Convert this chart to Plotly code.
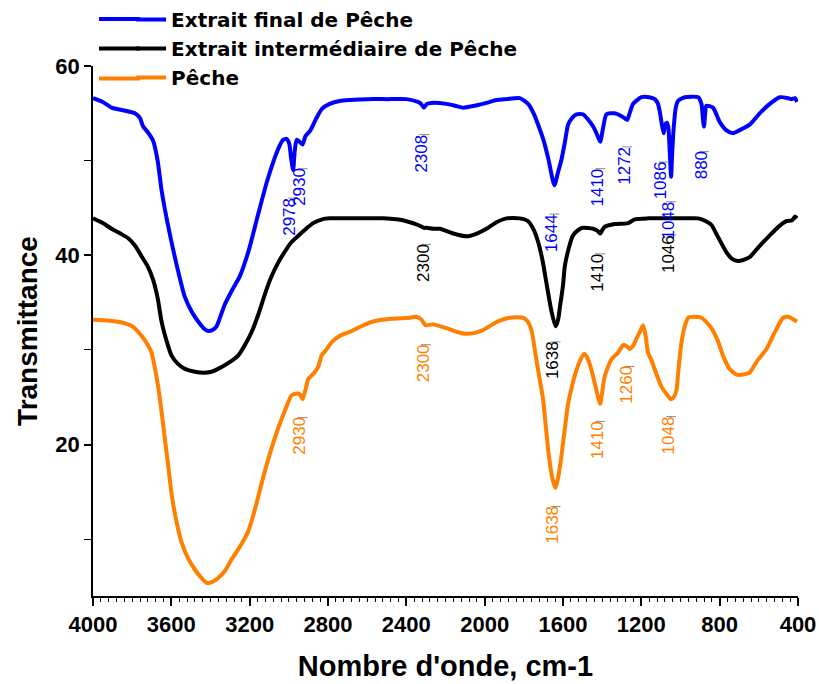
import plotly.graph_objects as go

# ---------------- data ----------------
wn_final = [4000, 3950, 3905, 3840, 3786, 3760, 3744, 3720, 3693, 3670, 3650, 3625, 3599, 3565, 3531, 3495,
            3463, 3435, 3412, 3390, 3369, 3350, 3327, 3290, 3250, 3205, 3157, 3110, 3055, 3030, 3012, 2998,
            2990, 2978, 2970, 2960, 2945, 2930, 2915, 2890, 2859, 2830, 2791, 2740, 2689, 2600, 2500, 2399,
            2341, 2325, 2310, 2295, 2271, 2195, 2150, 2110, 2050, 1991, 1940, 1889, 1821, 1778, 1750, 1727,
            1700, 1676, 1644, 1625, 1608, 1590, 1574, 1550, 1531, 1498, 1470, 1446, 1425, 1410, 1395, 1378,
            1336, 1301, 1280, 1272, 1260, 1242, 1199, 1160, 1131, 1115, 1106, 1095, 1086, 1078, 1070, 1062,
            1055, 1048, 1042, 1035, 1025, 1013, 978, 910, 893, 886, 880, 874, 868, 834, 800, 765, 732, 700,
            647, 600, 544, 493, 450, 434, 415, 405]
t_final = [56.6, 56.2, 55.6, 55.3, 55.0, 54.5, 53.6, 53.0, 52.1, 50.0, 46.9, 44.0, 41.4, 38.3, 35.6, 34.0,
           33.0, 32.3, 32.0, 32.1, 32.5, 33.5, 34.8, 36.3, 37.8, 40.5, 44.3, 47.9, 51.2, 52.2, 52.3, 51.8,
           50.5, 49.0, 51.0, 52.2, 52.0, 51.7, 52.6, 53.2, 54.5, 55.5, 56.0, 56.3, 56.4, 56.5, 56.5, 56.5,
           56.2, 56.0, 55.6, 56.0, 56.1, 56.0, 55.8, 55.6, 55.8, 56.1, 56.4, 56.5, 56.6, 56.0, 55.0, 53.8,
           52.2, 50.3, 47.4, 48.8, 50.1, 52.0, 53.8, 54.6, 54.9, 54.9, 54.3, 53.6, 52.7, 52.0, 53.5, 54.9,
           55.0, 54.7, 54.4, 54.3, 55.0, 56.0, 56.7, 56.7, 56.5, 56.0, 55.2, 53.8, 52.9, 53.8, 54.0, 53.5,
           51.0, 48.3, 51.0, 53.4, 55.5, 56.3, 56.7, 56.7, 56.0, 54.5, 53.6, 55.0, 55.8, 55.6, 54.1, 53.2,
           52.9, 53.2, 53.8, 54.9, 56.0, 56.7, 56.6, 56.5, 56.6, 56.2]

wn_inter = [4000, 3950, 3905, 3860, 3820, 3785, 3752, 3720, 3693, 3670, 3650, 3625, 3599, 3565, 3531, 3480,
            3429, 3395, 3361, 3310, 3259, 3225, 3190, 3155, 3122, 3090, 3055, 3020, 2986, 2950, 2918, 2876,
            2830, 2791, 2650, 2519, 2450, 2399, 2340, 2310, 2297, 2260, 2229, 2160, 2093, 2040, 1991, 1940,
            1889, 1821, 1778, 1750, 1727, 1705, 1684, 1659, 1638, 1625, 1616, 1600, 1591, 1570, 1549, 1520,
            1498, 1446, 1425, 1410, 1398, 1387, 1336, 1268, 1234, 1166, 1100, 1046, 980, 910, 870, 842, 810,
            765, 735, 706, 680, 647, 600, 544, 500, 459, 430, 415, 405]
t_inter = [43.9, 43.4, 42.8, 42.3, 41.8, 41.0, 39.9, 38.8, 37.4, 35.5, 33.0, 31.0, 29.4, 28.5, 28.0, 27.7,
           27.6, 27.7, 28.0, 28.6, 29.4, 30.5, 31.9, 33.8, 35.9, 37.7, 39.2, 40.4, 41.4, 42.1, 42.7, 43.4,
           43.8, 43.9, 43.9, 43.9, 43.8, 43.6, 43.2, 42.9, 42.9, 42.8, 42.8, 42.3, 42.0, 42.3, 42.8, 43.5,
           43.9, 43.9, 43.6, 42.7, 41.4, 39.5, 37.0, 34.1, 32.5, 33.2, 34.5, 36.8, 38.8, 40.8, 42.1, 42.7,
           42.9, 42.8, 42.6, 42.3, 42.7, 43.0, 43.3, 43.4, 43.8, 43.9, 43.9, 43.9, 43.9, 43.9, 43.6, 43.2, 42.0,
           40.3, 39.6, 39.4, 39.5, 39.8, 40.9, 42.1, 43.0, 43.6, 43.7, 44.1, 43.9]

wn_peche = [4000, 3920, 3837, 3800, 3769, 3735, 3701, 3685, 3667, 3650, 3633, 3615, 3599, 3575, 3548, 3515,
            3480, 3450, 3420, 3390, 3361, 3325, 3292, 3250, 3208, 3175, 3139, 3100, 3055, 3020, 2986, 2960,
            2944, 2930, 2915, 2901, 2870, 2850, 2833, 2810, 2782, 2740, 2689, 2630, 2570, 2480, 2382, 2350,
            2323, 2310, 2300, 2263, 2195, 2140, 2093, 2050, 2008, 1960, 1923, 1872, 1804, 1780, 1760, 1740,
            1720, 1702, 1676, 1655, 1638, 1625, 1608, 1590, 1574, 1550, 1531, 1510, 1492, 1472, 1455, 1430,
            1410, 1398, 1387, 1353, 1319, 1293, 1275, 1259, 1240, 1225, 1205, 1191, 1178, 1166, 1150, 1131,
            1115, 1097, 1070, 1050, 1035, 1021, 1010, 995, 978, 961, 930, 893, 870, 842, 810, 783, 750, 714,
            680, 647, 610, 561, 520, 476, 450, 430, 405]
t_peche = [33.2, 33.1, 32.8, 32.5, 31.9, 31.0, 29.7, 28.2, 26.1, 23.5, 20.6, 17.6, 14.8, 12.0, 9.7, 8.0,
           6.8, 6.0, 5.4, 5.5, 5.9, 6.7, 7.9, 9.2, 10.8, 13.0, 15.9, 18.8, 21.7, 23.6, 25.2, 25.4,
           25.3, 24.8, 25.8, 26.9, 27.6, 28.2, 29.4, 30.0, 30.8, 31.5, 31.9, 32.5, 33.0, 33.3, 33.4, 33.5,
           33.2, 32.8, 32.6, 32.7, 32.3, 31.9, 31.7, 31.8, 32.1, 32.7, 33.1, 33.4, 33.4, 33.0, 32.0, 29.5,
           27.0, 24.8, 19.5, 16.5, 15.4, 16.5, 18.8, 21.8, 24.3, 26.5, 27.9, 29.0, 29.6, 29.0, 27.9, 25.8,
           24.3, 25.8, 27.2, 29.0, 29.7, 30.5, 30.4, 30.1, 30.5, 31.2, 32.0, 32.6, 31.5, 29.7, 29.0, 27.9,
           27.0, 26.1, 25.3, 24.8, 25.0, 25.7, 28.0, 30.8, 32.5, 33.4, 33.5, 33.4, 33.0, 32.3, 31.0, 29.4,
           28.0, 27.4, 27.4, 27.6, 28.8, 30.1, 31.8, 33.4, 33.5, 33.3, 33.0]

# peak labels: wavenumber, text, top of label (transmittance value)
lab_final_wn = [2978, 2930, 2308, 1644, 1410, 1272, 1086, 1048, 880]
lab_final_txt = ["2978", "2930", "2308", "1644", "1410", "1272", "1086", "1048", "880"]
lab_final_y = [46.3, 49.4, 53.0, 44.6, 49.4, 51.7, 50.1, 45.9, 51.2]

lab_inter_wn = [2300, 1638, 1410, 1046]
lab_inter_txt = ["2300", "1638", "1410", "1046"]
lab_inter_y = [41.4, 31.1, 40.4, 42.4]

lab_peche_wn = [2930, 2300, 1638, 1410, 1260, 1048]
lab_peche_txt = ["2930", "2300", "1638", "1410", "1260", "1048"]
lab_peche_y = [23.1, 30.8, 13.7, 22.7, 28.5, 23.2]

names = ["Extrait final de Pêche", "Extrait intermédiaire de Pêche", "Pêche"]
colors = ["#0000FF", "#000000", "#FF7F00"]

x_tickvals = [4000, 3600, 3200, 2800, 2400, 2000, 1600, 1200, 800, 400]
y_tickvals = [20, 40, 60]

FONT = "Liberation Sans, Arial, sans-serif"
LEG_FONT = "DejaVu Sans, Liberation Sans, sans-serif"

fig = go.Figure()
series = [(wn_final, t_final), (wn_inter, t_inter), (wn_peche, t_peche)]
for i, (xs, ys) in enumerate(series):
    fig.add_trace(go.Scatter(
        x=xs, y=ys, mode="lines", name=names[i],
        line=dict(color=colors[i], width=4, shape="spline", smoothing=0.6),
        hoverinfo="skip"))

labels = [(lab_final_wn, lab_final_txt, lab_final_y),
          (lab_inter_wn, lab_inter_txt, lab_inter_y),
          (lab_peche_wn, lab_peche_txt, lab_peche_y)]
for i, (lx, lt, ly) in enumerate(labels):
    fig.add_trace(go.Scatter(
        x=lx, y=[v - 0.25 for v in ly], mode="markers", showlegend=False, hoverinfo="skip",
        marker=dict(symbol="line-ew", size=7, line=dict(color="#888888", width=1))))
    for x, t, y in zip(lx, lt, ly):
        fig.add_annotation(x=x, y=y, text=t, textangle=-90, showarrow=False,
                           xanchor="center", yanchor="top", xshift=-3,
                           font=dict(family=FONT, size=17, color=colors[i]))

# longer legend keys (the reference draws longer sample lines)
plot_w, plot_h, m_l, m_t = 705, 530, 93, 66
legend_rows_px = [19, 48.5, 78.5]
for i, py in enumerate(legend_rows_px):
    yp = (m_t + plot_h - py) / plot_h
    fig.add_shape(type="line", xref="paper", yref="paper",
                  x0=(99 - m_l) / plot_w, x1=(140 - m_l) / plot_w, y0=yp, y1=yp,
                  line=dict(color=colors[i], width=4))

axis_font = dict(family=FONT, size=22, color="black", weight="bold")
fig.update_xaxes(
    range=[4000, 400], tickmode="array", tickvals=x_tickvals,
    ticks="outside", ticklen=8, tickwidth=1.5, tickcolor="black",
    minor=dict(dtick=40, tick0=0, ticks="outside", ticklen=4, tickwidth=1, tickcolor="black"),
    showline=True, linecolor="black", linewidth=1.5, showgrid=False, zeroline=False,
    tickfont=axis_font, ticklabeloverflow="allow",
    title=dict(text="Nombre d'onde, cm-1", font=dict(family=FONT, size=29, color="black", weight="bold"),
               standoff=20))
fig.update_yaxes(
    range=[4, 60], tickmode="array", tickvals=y_tickvals,
    ticks="outside", ticklen=7, tickwidth=1.5, tickcolor="black",
    minor=dict(dtick=10, tick0=0, ticks="outside", ticklen=7, tickwidth=1, tickcolor="black"),
    showline=True, linecolor="black", linewidth=1.5, showgrid=False, zeroline=False,
    tickfont=axis_font,
    title=dict(text="Transmittance", font=dict(family=FONT, size=28, color="black", weight="bold"),
               standoff=10))

fig.update_layout(
    width=819, height=684,
    margin=dict(l=m_l, r=21, t=m_t, b=88, autoexpand=False),
    paper_bgcolor="white", plot_bgcolor="white",
    showlegend=True,
    legend=dict(x=0.054, xref="paper", y=1.0, yref="container", xanchor="left", yanchor="top",
                traceorder="normal",
                font=dict(family=LEG_FONT, size=20, color="black", weight="bold"),
                bgcolor="rgba(0,0,0,0)", borderwidth=0),
)

fig.write_html("out.html")
